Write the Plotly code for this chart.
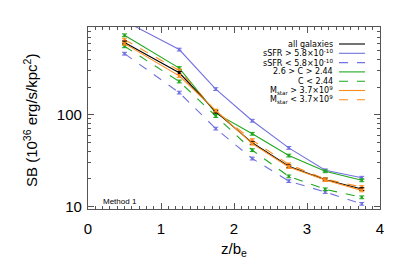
import plotly.graph_objects as go

x = [0.5, 1.25, 1.75, 2.25, 2.75, 3.25, 3.75]

all_gal   = [612, 286, 108, 49.4, 27.4, 19.6, 15.5]
ssfr_hi   = [1050, 512, 190, 86, 43.5, 24.8, 20.6]
ssfr_lo   = [462, 174, 70.6, 33.3, 18.9, 14.4, 10.7]
c_hi      = [733, 322, 104, 62, 35.9, 24.2, 19.3]
c_lo      = [556, 230, 96.8, 41.1, 21.3, 15.4, 12.6]
mstar_hi  = [594, 265, 111, 48.4, 27.0, 19.4, 15.0]
mstar_lo  = [657, 303, 109, 52.8, 28.8, 19.9, 16.3]

labels = ["all galaxies",
          "sSFR > 5.8×10<sup>-10</sup>",
          "sSFR < 5.8×10<sup>-10</sup>",
          "2.6 > C > 2.44",
          "C < 2.44",
          "M<sub>star</sub> > 3.7×10<sup>9</sup>",
          "M<sub>star</sub> < 3.7×10<sup>9</sup>"]

BLACK = "#000000"
BLUE = "#7272e0"
GREEN = "#1fa81f"
ORANGE = "#ff8c1a"

series = [
    (all_gal, BLACK, "solid"),
    (ssfr_hi, BLUE, "solid"),
    (ssfr_lo, BLUE, "dash"),
    (c_hi, GREEN, "solid"),
    (c_lo, GREEN, "dash"),
    (mstar_hi, ORANGE, "solid"),
    (mstar_lo, ORANGE, "dash"),
]

fig = go.Figure()
order = [1, 2, 3, 4, 6, 0, 5]
for i in order:
    ys, col, dash = series[i]
    fig.add_trace(go.Scatter(
        x=x, y=ys, mode="lines+markers",
        line=dict(color=col, width=1.1, dash=dash),
        marker=dict(symbol="square", size=2.5, color=col),
        error_y=dict(type="percent", value=3.5, color=col, thickness=1, width=2.5),
        showlegend=False, cliponaxis=True))

# the page body has an 8 px margin; positions below are page pixels minus 8
OFF = 8
L, R, T, B = 88 - OFF, 380 - OFF, 27 - OFF, 209 - OFF
W, H = 407, 271
pw, ph = R - L, B - T

row_y = [44, 53.3, 62.6, 71.9, 81.2, 90.5, 99.8]
for (ys, col, dash), lab, yy in zip(series, labels, row_y):
    py = (B - (yy - OFF)) / ph
    fig.add_annotation(x=(335 - OFF - L) / pw, y=py, xref="paper", yref="paper",
                       text=lab, showarrow=False, xanchor="right", yanchor="middle",
                       font=dict(size=8, color="black", family="DejaVu Sans"))
    fig.add_shape(type="line", xref="paper", yref="paper",
                  x0=(339 - OFF - L) / pw, x1=(365 - OFF - L) / pw, y0=py, y1=py,
                  line=dict(color=col, width=1.1, dash=dash))

fig.add_annotation(x=(101 - OFF - L) / pw, y=(B - (201 - OFF)) / ph, xref="paper", yref="paper",
                   text="Method 1", showarrow=False, xanchor="left", yanchor="middle",
                   font=dict(size=8, color="black", family="Liberation Sans"))

# y-axis title
fig.add_annotation(x=(31 - OFF - L) / pw, y=(B - (121 - OFF)) / ph, xref="paper", yref="paper",
                   text="SB (10<sup>36</sup> erg/s/kpc<sup>2</sup>)", showarrow=False,
                   textangle=-90, xanchor="center", yanchor="middle",
                   font=dict(size=15, family="Liberation Sans", color="black"))

axis_common = dict(showline=True, linecolor="#555555", linewidth=1.2, mirror="ticks",
                   ticks="inside", tickcolor="#555555", showgrid=False, zeroline=False,
                   automargin=False,
                   tickfont=dict(size=15, family="Liberation Sans", color="black"))

fig.update_xaxes(range=[0, 4], dtick=1, ticklen=6, ticklabelstandoff=6,
                 minor=dict(dtick=0.1, ticks="inside", ticklen=3, tickcolor="#555555"),
                 title=dict(text="z/b<sub>e</sub>", standoff=7,
                            font=dict(size=15, family="Liberation Sans", color="black")),
                 **axis_common)
fig.update_yaxes(type="log", range=[0.973, 2.955], tickvals=[10, 100], ticktext=["10", "100"],
                 ticklen=6, ticklabelstandoff=2,
                 minor=dict(tickvals=[20, 30, 40, 50, 60, 70, 80, 90, 200, 300, 400, 500, 600, 700, 800, 900],
                            ticks="inside", ticklen=3, tickcolor="#555555"),
                 **axis_common)

fig.update_layout(width=W, height=H, margin=dict(l=L, r=W - R, t=T, b=H - B, autoexpand=False),
                  paper_bgcolor="white", plot_bgcolor="white", showlegend=False)

fig.write_html("out.html")
